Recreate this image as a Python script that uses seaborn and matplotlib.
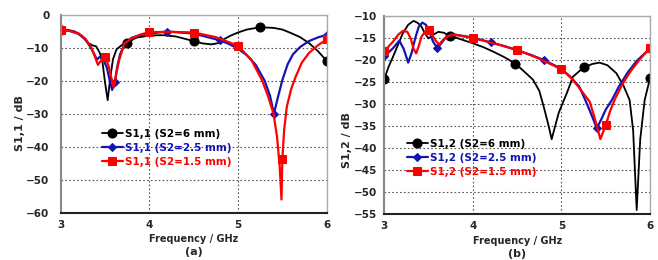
import pandas as pd
import seaborn as sns
import matplotlib.pyplot as plt

# S1,1 curves (left panel)
S11_F_6MM = [3.0, 3.08, 3.16, 3.24, 3.31, 3.36, 3.4, 3.44, 3.47, 3.5, 3.53, 3.56, 3.59, 3.63, 3.69,
             3.75, 3.85, 4.0, 4.15, 4.3, 4.4, 4.5, 4.6, 4.7, 4.78, 4.85, 4.92, 5.0, 5.1, 5.25,
             5.4, 5.5, 5.6, 5.7, 5.8, 5.9, 6.0]
S11_V_6MM = [-4.5, -4.6, -5.1, -6.5, -8.6, -9.3, -9.6, -11.5, -14.0, -20.5, -25.9, -19.0, -13.5, -10.5, -9.2,
             -8.5, -7.0, -6.3, -6.2, -6.6, -7.3, -8.0, -8.7, -9.0, -8.6, -7.3, -6.3, -5.4, -4.5, -3.8,
             -4.0, -4.5, -5.6, -6.8, -8.6, -11.0, -14.0]
S11_M_6MM = [3.0, 3.75, 4.5, 5.25, 6.0]

S11_F_25MM = [3.0, 3.1, 3.2, 3.28, 3.35, 3.41, 3.44, 3.48, 3.52, 3.55, 3.58, 3.61, 3.64, 3.67, 3.72,
              3.8, 3.9, 4.0, 4.2, 4.5, 4.8, 4.9, 5.0, 5.1, 5.2, 5.3, 5.36, 5.405, 5.45, 5.5,
              5.56, 5.62, 5.7, 5.8, 5.9, 6.0]
S11_V_25MM = [-4.5, -4.9, -5.8, -7.5, -10.5, -13.6, -12.8, -13.5, -16.0, -19.5, -22.8, -20.5, -15.5, -12.0, -9.0,
              -7.0, -6.2, -5.7, -5.1, -5.7, -7.8, -8.9, -10.3, -12.3, -15.2, -20.0, -24.5, -30.0, -25.0, -19.8,
              -15.0, -12.0, -9.8, -8.0, -6.9, -6.1]
S11_M_25MM = [3.0, 3.61, 4.2, 4.8, 5.405, 6.0]

S11_F_15MM = [3.0, 3.1, 3.2, 3.28, 3.35, 3.39, 3.42, 3.46, 3.5, 3.54, 3.57, 3.6, 3.63, 3.66, 3.72,
              3.8, 3.9, 4.0, 4.25, 4.5, 4.75, 5.0, 5.15, 5.27, 5.34, 5.4, 5.44, 5.47, 5.49, 5.5,
              5.52, 5.55, 5.6, 5.65, 5.72, 5.8, 5.9, 6.0]
S11_V_15MM = [-4.5, -4.9, -5.6, -7.3, -10.2, -13.0, -15.2, -13.7, -12.7, -15.5, -19.0, -22.0, -17.5, -13.7, -8.7,
              -7.2, -6.0, -5.3, -5.2, -5.4, -6.8, -9.4, -13.7, -19.8, -24.8, -30.0, -37.0, -46.0, -56.0, -43.7,
              -35.0, -27.9, -22.5, -18.8, -14.5, -11.6, -9.3, -7.5]
S11_M_15MM = [3.0, 3.5, 4.0, 4.5, 5.0, 5.5, 6.0]

# S1,2 curves (right panel)
S12_F_6MM = [3.0, 3.05, 3.1, 3.16, 3.21, 3.27, 3.33, 3.38, 3.42, 3.46, 3.5, 3.55, 3.61, 3.67, 3.74,
             3.85, 4.0, 4.12, 4.23, 4.35, 4.48, 4.6, 4.68, 4.75, 4.8, 4.85, 4.89, 4.93, 4.97, 5.02,
             5.06, 5.13, 5.25, 5.35, 5.43, 5.52, 5.62, 5.7, 5.77, 5.81, 5.85, 5.89, 5.94, 6.0]
S12_V_6MM = [-24.3, -21.5, -19.2, -16.3, -13.9, -12.0, -11.1, -11.6, -12.4, -14.0, -15.1, -14.3, -13.6, -13.8, -14.5,
             -15.2, -16.2, -17.1, -18.1, -19.3, -20.8, -23.0, -24.5, -27.0, -30.6, -34.5, -38.0, -35.0, -32.0, -29.5,
             -27.6, -23.8, -21.7, -20.9, -20.6, -21.2, -23.0, -25.8, -29.1, -36.0, -54.1, -38.0, -29.1, -24.2]
S12_M_6MM = [3.0, 3.74, 4.48, 5.25, 6.0]

S12_F_25MM = [3.0, 3.1, 3.17, 3.22, 3.27, 3.31, 3.35, 3.39, 3.43, 3.47, 3.51, 3.55, 3.6, 3.64, 3.69,
              3.76, 3.85, 4.0, 4.2, 4.35, 4.5, 4.65, 4.8, 5.0, 5.1, 5.2, 5.27, 5.33, 5.4, 5.45,
              5.5, 5.57, 5.65, 5.75, 5.85, 6.0]
S12_V_25MM = [-19.2, -17.3, -15.6, -17.5, -20.6, -18.3, -15.0, -12.4, -11.5, -12.0, -13.5, -15.8, -17.3, -16.3, -15.0,
              -14.1, -14.4, -14.9, -16.0, -16.8, -17.8, -18.8, -20.0, -22.0, -23.8, -26.0, -29.1, -32.0, -35.5, -33.5,
              -31.3, -29.1, -26.0, -22.8, -20.2, -17.4]
S12_M_25MM = [3.0, 3.6, 4.2, 4.8, 5.4, 6.0]

S12_F_15MM = [3.0, 3.1, 3.16, 3.21, 3.26, 3.3, 3.33, 3.36, 3.39, 3.42, 3.46, 3.5, 3.54, 3.58, 3.62,
              3.66, 3.72, 3.8, 4.0, 4.25, 4.5, 4.75, 5.0, 5.12, 5.2, 5.32, 5.38, 5.44, 5.5, 5.55,
              5.6, 5.68, 5.78, 5.88, 6.0]
S12_V_15MM = [-18.0, -15.8, -14.2, -13.4, -13.6, -15.2, -17.4, -18.5, -16.8, -14.7, -13.6, -13.2, -14.3, -15.6, -16.5,
              -15.5, -14.5, -14.3, -15.0, -16.3, -17.7, -19.7, -22.1, -24.3, -26.3, -29.5, -33.5, -38.0, -34.8, -31.6,
              -29.1, -25.8, -22.6, -20.0, -17.2]
S12_M_15MM = [3.0, 3.5, 4.0, 4.5, 5.0, 5.5, 6.0]

BLACK = "black"
BLUE = "#1414b4"
RED = "#ff0000"

sns.set_theme(style="whitegrid")
plt.rcParams["font.family"] = ["DejaVu Sans"]
plt.rcParams["font.weight"] = "bold"


def draw_series(ax, freq, vals, mark_f, color, marker, ms, lw, label):
    df = pd.DataFrame({"f": freq, "v": vals})
    idx = [freq.index(m) for m in mark_f]
    sns.lineplot(data=df, x="f", y="v", ax=ax, color=color, lw=lw, marker=marker,
                 markersize=ms, markeredgecolor=color, markevery=idx, label=label,
                 estimator=None, sort=False)


def style_axes(ax, ylim, yticks, ypad):
    ax.set_xlim(3, 6)
    ax.set_ylim(*ylim)
    ax.set_xticks([3, 4, 5, 6])
    ax.set_yticks(yticks)
    ax.set_xlabel("")
    ax.set_ylabel("")
    ax.set_facecolor("white")
    ax.grid(True, color="#555555", ls=(0, (1.5, 2)), lw=0.8)
    ax.tick_params(axis="x", labelsize=7.5, length=3, width=1, color="#333333", pad=2)
    ax.tick_params(axis="y", labelsize=7.5, length=0, pad=ypad)
    for lab in ax.get_xticklabels() + ax.get_yticklabels():
        lab.set_fontweight("bold")
    ax.spines["bottom"].set_color("#222222")
    ax.spines["bottom"].set_linewidth(1.5)
    ax.spines["left"].set_color("#888888")
    ax.spines["left"].set_linewidth(1.5)
    for s in ["top", "right"]:
        ax.spines[s].set_color("#aaaaaa")
        ax.spines[s].set_linewidth(1.0)


fig = plt.figure(figsize=(6.58, 2.6), dpi=100)
ax1 = fig.add_axes([0.0922, 0.182, 0.4043, 0.7615])
ax2 = fig.add_axes([0.584, 0.177, 0.4038, 0.7615])

draw_series(ax1, S11_F_6MM, S11_V_6MM, S11_M_6MM, BLACK, "o", 6.5, 1.3, "S1,1 (S2=6 mm)")
draw_series(ax1, S11_F_25MM, S11_V_25MM, S11_M_25MM, BLUE, "D", 4, 1.6, "S1,1 (S2=2.5 mm)")
draw_series(ax1, S11_F_15MM, S11_V_15MM, S11_M_15MM, RED, "s", 6, 1.6, "S1,1 (S2=1.5 mm)")

draw_series(ax2, S12_F_6MM, S12_V_6MM, S12_M_6MM, BLACK, "o", 6.5, 1.3, "S1,2 (S2=6 mm)")
draw_series(ax2, S12_F_25MM, S12_V_25MM, S12_M_25MM, BLUE, "D", 4, 1.6, "S1,2 (S2=2.5 mm)")
draw_series(ax2, S12_F_15MM, S12_V_15MM, S12_M_15MM, RED, "s", 6, 1.6, "S1,2 (S2=1.5 mm)")

style_axes(ax1, (-60, 0), range(-60, 1, 10), 8)
style_axes(ax2, (-55, -10), range(-55, -9, 5), 5)

for ax, pos in [(ax1, (0.155, 0.505)), (ax2, (0.6185, 0.467))]:
    leg = ax.legend(loc="upper left", bbox_to_anchor=pos, bbox_transform=fig.transFigure,
                    frameon=False, borderpad=0, borderaxespad=0, handlelength=2.0,
                    handletextpad=0.2, labelspacing=0.4, labelcolor="linecolor",
                    prop={"size": 7.5, "weight": "bold"})

fig.text(0.03, 0.527, "S1,1 / dB", rotation=90, ha="center", va="center", fontsize=8, fontweight="bold")
fig.text(0.527, 0.46, "S1,2 / dB", rotation=90, ha="center", va="center", fontsize=8, fontweight="bold")
fig.text(0.2944, 0.081, "Frequency / GHz", ha="center", va="center", fontsize=7, fontweight="bold")
fig.text(0.786, 0.073, "Frequency / GHz", ha="center", va="center", fontsize=7, fontweight="bold")
fig.text(0.2944, 0.031, "(a)", ha="center", va="center", fontsize=8, fontweight="bold")
fig.text(0.786, 0.023, "(b)", ha="center", va="center", fontsize=8, fontweight="bold")

fig.savefig("out.png", dpi=100)
